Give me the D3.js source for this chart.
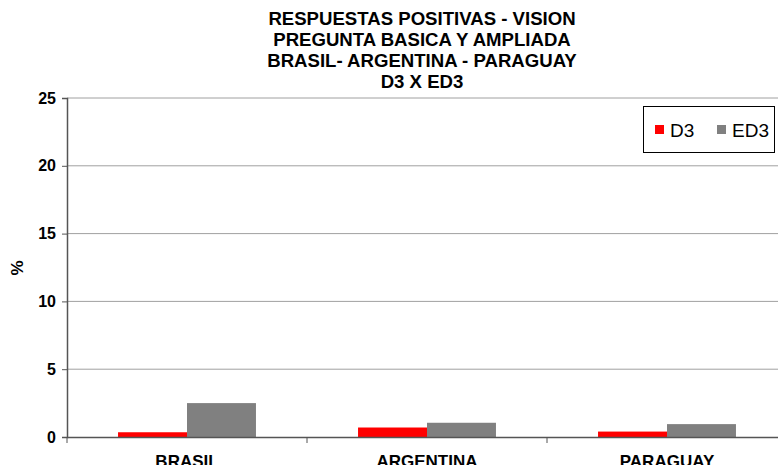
<!DOCTYPE html>
<html><head><meta charset="utf-8">
<script src="https://cdn.jsdelivr.net/npm/d3@7"></script>
<style>body{margin:0;background:#fff}svg{display:block;font-family:Arial,"Liberation Sans",sans-serif}</style>
</head><body><svg id="c" width="778" height="465"></svg>
<script>
const categories = ["BRASIL", "ARGENTINA", "PARAGUAY"];
const seriesNames = ["D3", "ED3"];
const d3Values = [0.35, 0.7, 0.4];
const ed3Values = [2.5, 1.05, 0.95];
const yTicks = [0, 5, 10, 15, 20, 25];
const titleLines = ["RESPUESTAS POSITIVAS - VISION", "PREGUNTA BASICA Y AMPLIADA", "BRASIL- ARGENTINA - PARAGUAY", "D3 X ED3"];
const colors = ["#ff0000", "#808080"];

const FF = "Arial, 'Liberation Sans', sans-serif";
const svg = d3.select("#c");
const L = 67, R = 787, T = 98, B = 437;
const x = d3.scaleBand().domain(categories).range([L, R]).paddingInner(0).paddingOuter(0);
const y = d3.scaleLinear().domain([0, 25]).range([B, T]);
const xs = d3.scaleBand().domain(seriesNames).range([0, x.bandwidth()]).paddingInner(0).paddingOuter(0.74);

// gridlines
svg.append("g").selectAll("line").data(yTicks.filter(t => t > 0)).join("line")
  .attr("x1", L).attr("x2", R).attr("y1", d => y(d)).attr("y2", d => y(d))
  .attr("stroke", "#a0a0a0").attr("stroke-width", 1);

// bars
const series = [d3Values, ed3Values];
series.forEach((vals, si) => {
  svg.append("g").selectAll("rect").data(categories).join("rect")
    .attr("x", (c) => x(c) + xs(seriesNames[si]))
    .attr("width", xs.bandwidth())
    .attr("y", (c, i) => y(vals[i]))
    .attr("height", (c, i) => y(0) - y(vals[i]))
    .attr("fill", colors[si]);
});

// y axis
const ya = svg.append("g").attr("transform", `translate(${L},0)`)
  .call(d3.axisLeft(y).tickValues(yTicks).tickSize(5).tickPadding(6));
ya.select(".domain").attr("stroke", "#555").attr("stroke-width", 1.5);
ya.selectAll(".tick line").attr("stroke", "#555");
ya.selectAll("text").attr("font-size", 16).attr("font-weight", "bold").attr("fill", "#000").attr("font-family", FF);

// x axis
const xa = svg.append("g").attr("transform", `translate(0,${B})`)
  .call(d3.axisBottom(x).tickSize(0).tickPadding(18));
xa.select(".domain").attr("stroke", "#555").attr("stroke-width", 1.5);
xa.selectAll("text").attr("font-size", 17).attr("font-weight", "bold").attr("fill", "#000").attr("font-family", FF);
svg.append("g").selectAll("line").data(categories).join("line")
  .attr("x1", d => x(d)).attr("x2", d => x(d)).attr("y1", B).attr("y2", B + 6)
  .attr("stroke", "#555");

// y label
svg.append("text").attr("transform", "translate(23,268) rotate(-90)")
  .attr("text-anchor", "middle").attr("font-size", 17).attr("font-weight", "bold").text("%");

// title
svg.append("g").selectAll("text").data(titleLines).join("text")
  .attr("x", 422).attr("y", (d, i) => 25 + i * 21)
  .attr("text-anchor", "middle").attr("font-size", 18.6).attr("font-weight", "bold").text(d => d);

// legend
const lg = svg.append("g");
lg.append("rect").attr("x", 643.5).attr("y", 106.5).attr("width", 131).attr("height", 46)
  .attr("fill", "#fff").attr("stroke", "#000").attr("stroke-width", 1);
const lgX = [655, 717];
seriesNames.forEach((s, i) => {
  lg.append("rect").attr("x", lgX[i]).attr("y", 125).attr("width", 9).attr("height", 9).attr("fill", colors[i]);
  lg.append("text").attr("x", lgX[i] + 15).attr("y", 137).attr("font-size", 19).text(s);
});
</script></body></html>
